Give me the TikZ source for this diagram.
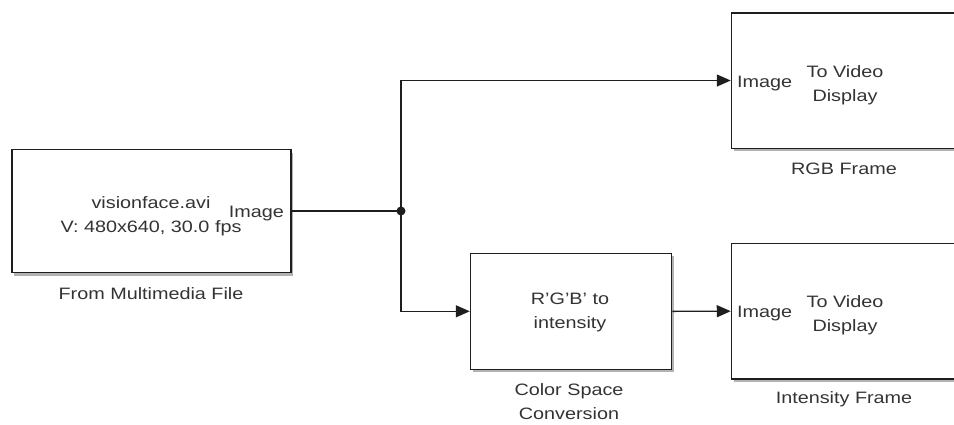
\documentclass[tikz,border=0pt]{standalone}
\usepackage{fontspec}
\setmainfont[FakeStretch=1.2]{Liberation Sans}
\usetikzlibrary{arrows.meta,shadows}
\definecolor{txt}{HTML}{333333}
\definecolor{ln}{HTML}{1E1E1E}
\begin{document}
\begin{tikzpicture}[x=1pt,y=-1pt,
  blk/.style={draw=ln, line width=1.5pt, fill=white, rectangle, inner sep=0pt,
    drop shadow={shadow xshift=2pt, shadow yshift=-3pt, fill=black, opacity=0.3}},
  lbl/.style={text=txt, align=center, inner sep=0pt, font=\fontsize{16.5}{24}\selectfont},
  wire/.style={draw=ln, line width=1.4pt},
  arr/.style={wire, -{Triangle[length=14pt,width=12pt]}}]
\clip (0,0) rectangle (954,424);
\useasboundingbox (0,0) rectangle (954,424);
% blocks
\node[blk, minimum width=279pt, minimum height=123pt] (src) at (151.5,211) {};
\node[blk, minimum width=259pt, minimum height=135.5pt] (rgb) at (861,80.5) {};
\node[blk, minimum width=201pt, minimum height=116pt] (csc) at (571,311.3) {};
\node[blk, minimum width=259pt, minimum height=135.5pt] (int) at (861,311.2) {};
% block texts
\node[lbl] (t1) at (151,216) {visionface.avi\\V: 480x640, 30.0 fps};
\node[lbl, anchor=east] (p1) at (284,214) {Image};
\node[lbl] (n1) at (151,294) {From Multimedia File};
\node[lbl, anchor=west] (p2) at (737,84) {Image};
\node[lbl] (t2) at (845,85) {To Video\\Display};
\node[lbl] (n2) at (844,169) {RGB Frame};
\node[lbl] (t3) at (570,312.5) {R'G'B' to\\intensity};
\node[lbl] (n3) at (569,402) {Color Space\\Conversion};
\node[lbl, anchor=west] (p4) at (737,314) {Image};
\node[lbl] (t4) at (845,315) {To Video\\Display};
\node[lbl] (n4) at (844,399.5) {Intensity Frame};
% connectors
\coordinate (j) at (401,211);
\draw[wire] (src.east) -- (j);
\draw[arr] (j) |- (rgb.west);
\draw[arr] (j) |- (csc.west);
\draw[arr] (csc.east) -- (int.west);
\fill[ln] (j) circle (4.5);
\end{tikzpicture}
\end{document}
